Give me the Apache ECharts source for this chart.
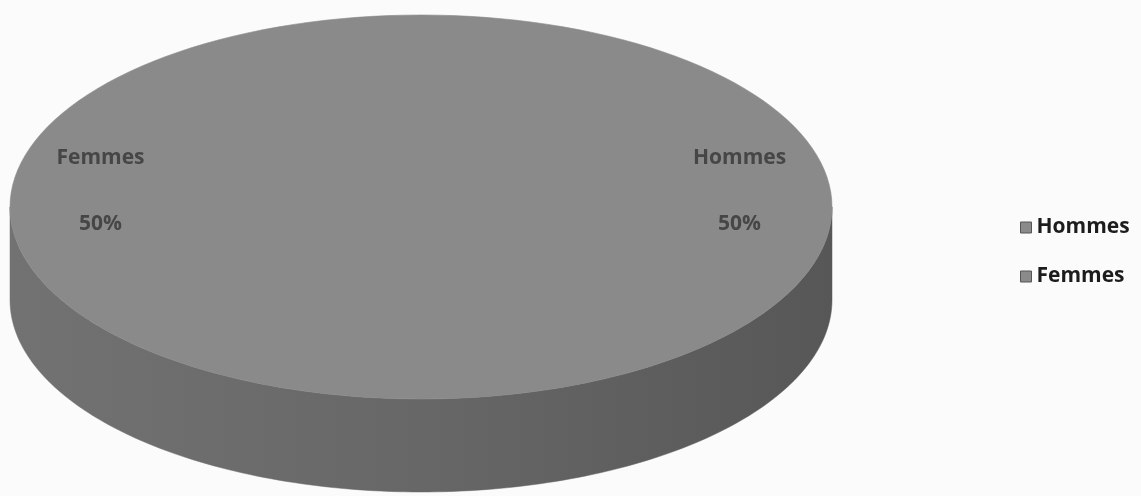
<!DOCTYPE html>
<html>
<head>
<meta charset="utf-8">
<script src="https://cdn.jsdelivr.net/npm/echarts@6/dist/echarts.min.js"></script>
<style>
  html, body { margin: 0; padding: 0; background: #fbfbfb; }
  #chart { width: 1141px; height: 496px; }
</style>
</head>
<body>
<div id="chart"></div>
<script>
const categories = ['Hommes', 'Femmes']
const values = [50, 50]

// 3D pie geometry (top ellipse + depth)
const pie = { cx: 421, cy: 207, rx: 411, ry: 192, depth: 93 }
const topColor = '#8a8a8a'
const labelColor = '#464646'
const fontFamily = '"Open Sans", "Noto Sans", sans-serif'

const total = values.reduce((a, b) => a + b, 0)

function sliceAngles(i) {
  let start = 0
  for (let k = 0; k < i; k++) start += values[k] / total * Math.PI * 2
  return [start, start + values[i] / total * Math.PI * 2]
}

// angle measured clockwise from 12 o'clock
function pt(phi, dy) {
  return [pie.cx + pie.rx * Math.sin(phi), pie.cy - pie.ry * Math.cos(phi) + (dy || 0)]
}

function arc(a, b, dy) {
  const n = 80
  const pts = []
  for (let j = 0; j <= n; j++) pts.push(pt(a + (b - a) * j / n, dy))
  return pts
}

const sideFill = {
  type: 'linear', x: pie.cx - pie.rx, y: 0, x2: pie.cx + pie.rx, y2: 0, global: true,
  colorStops: [
    { offset: 0, color: '#727272' },
    { offset: 0.5, color: '#676767' },
    { offset: 1, color: '#575757' }
  ]
}

function renderSlice(i) {
  const [a, b] = sliceAngles(i)
  const children = []

  // front side wall (only the part facing the viewer)
  const s = Math.max(a, Math.PI / 2)
  const e = Math.min(b, Math.PI * 1.5)
  if (e > s) {
    const top = arc(s, e, 0)
    const bottom = arc(e, s, pie.depth)
    children.push({
      type: 'polygon',
      z2: 1,
      shape: { points: top.concat(bottom) },
      style: { fill: sideFill, stroke: sideFill, lineWidth: 0.5 }
    })
  }

  // top face
  children.push({
    type: 'polygon',
    z2: 10,
    shape: { points: [[pie.cx, pie.cy]].concat(arc(a, b, 0)) },
    style: { fill: topColor, stroke: topColor, lineWidth: 0.6 }
  })

  // labels: name and percentage
  const mid = (a + b) / 2
  const lx = pie.cx + 0.775 * pie.rx * Math.sin(mid) - (Math.sin(mid) < 0 ? 2 : 0)
  const ly = pie.cy - 0.775 * pie.ry * Math.cos(mid) - 16
  const pct = Math.round(values[i] / total * 100) + '%'
  children.push({
    type: 'text', z2: 20,
    style: { x: lx, y: ly - 33, text: categories[i], align: 'center', verticalAlign: 'middle',
      fill: labelColor, font: 'bold 21px ' + fontFamily }
  })
  children.push({
    type: 'text', z2: 20,
    style: { x: lx, y: ly + 33, text: pct, align: 'center', verticalAlign: 'middle',
      fill: labelColor, font: 'bold 21px ' + fontFamily }
  })

  return { type: 'group', children }
}

const chart = echarts.init(document.getElementById('chart'))
chart.setOption({
  backgroundColor: '#fbfbfb',
  animation: false,
  legend: {
    orient: 'vertical',
    left: 1015,
    top: 212,
    itemGap: 28,
    itemWidth: 11,
    itemHeight: 11,
    icon: 'rect',
    data: categories,
    textStyle: { color: '#1c1c1c', fontSize: 21, fontWeight: 'bold', fontFamily: '"Open Sans", sans-serif' },
    itemStyle: { borderColor: '#555', borderWidth: 1 }
  },
  series: categories.map((name, i) => ({
    type: 'custom',
    name,
    coordinateSystem: 'none',
    color: topColor,
    data: [values[i]],
    renderItem: () => renderSlice(i)
  }))
})
</script>
</body>
</html>
